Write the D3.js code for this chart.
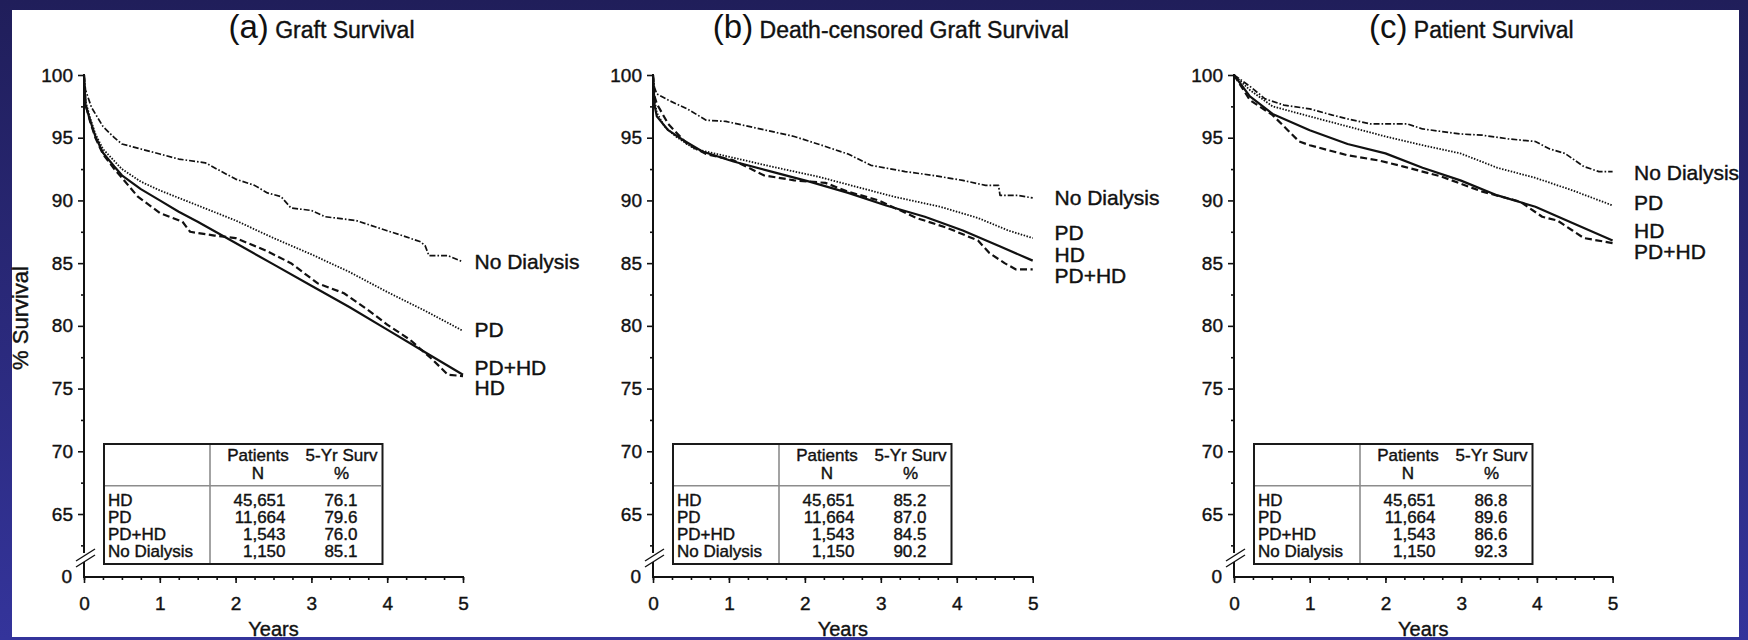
<!DOCTYPE html>
<html>
<head>
<meta charset="utf-8">
<script src="https://d3js.org/d3.v7.min.js"></script>
<style>
  body{margin:0;background:#28277a;}
  svg{display:block;font-family:"Liberation Sans",Arial,Helvetica,sans-serif;}
  text{stroke:#111;stroke-width:0.4px;paint-order:stroke;}
  text.light{stroke-width:0;}
</style>
</head>
<body>
<svg id="chart" width="1748" height="640"></svg>
<script>
// ---- data ----
const years = [0,1,2,3,4,5];
const quarterTicks = d3.range(0, 5.001, 0.25);
const yTicks = [65,70,75,80,85,90,95,100];
const yMinorTicks = [62.5,67.5,72.5,77.5,82.5,87.5,92.5,97.5];
const groups = ['HD','PD','PD+HD','No Dialysis'];
const patientsN = ['45,651','11,664','1,543','1,150'];

const graftSurv5   = [76.1, 79.6, 76.0, 85.1];
const deathCSurv5  = [85.2, 87.0, 84.5, 90.2];
const patientSurv5 = [86.8, 89.6, 86.6, 92.3];

// (a) graft survival
const graftHD = [[0,100],[0.02,97.6],[0.08,96.4],[0.15,95.1],[0.25,93.8],[0.4,92.7],[0.5,92.0],[0.75,90.9],[1,90.0],[1.25,89.1],[1.5,88.3],[2,86.6],[2.5,84.9],[3,83.2],[3.5,81.5],[4,79.7],[4.5,77.9],[5,76.1]];
const graftPD = [[0,100],[0.02,97.9],[0.08,96.6],[0.15,95.3],[0.25,94.1],[0.5,92.5],[0.75,91.5],[1,90.8],[1.5,89.6],[2,88.4],[2.5,87.0],[3,85.7],[3.5,84.3],[4,82.7],[4.5,81.2],[5,79.6]];
const graftPDHD = [[0,100],[0.02,97.7],[0.08,96.3],[0.15,95.0],[0.25,93.7],[0.4,92.5],[0.5,91.8],[0.71,90.3],[1,89.0],[1.3,88.3],[1.4,87.5],[1.72,87.2],[2,87.0],[2.4,86.0],[2.73,85.0],[3.08,83.4],[3.43,82.6],[3.74,81.3],[4,80.1],[4.3,78.9],[4.6,77.3],[4.8,76.1],[5,76.0]];
const graftND = [[0,100],[0.02,98.8],[0.1,97.4],[0.25,95.9],[0.4,95.0],[0.5,94.5],[0.75,94.1],[1,93.7],[1.25,93.3],[1.6,93.0],[2,91.7],[2.25,91.2],[2.42,90.6],[2.6,90.3],[2.73,89.4],[3,89.2],[3.18,88.7],[3.59,88.4],[3.99,87.6],[4.2,87.2],[4.44,86.7],[4.5,86.4],[4.55,85.6],[4.8,85.6],[5,85.1]];

// (b) death-censored graft survival
const dcHD = [[0,100],[0.02,97.6],[0.05,96.7],[0.2,95.6],[0.4,94.8],[0.65,93.9],[1.06,93.1],[1.56,92.3],[2.06,91.5],[2.57,90.6],[3.07,89.6],[3.58,88.7],[4.08,87.6],[4.58,86.3],[5,85.2]];
const dcPD = [[0,100],[0.02,98.0],[0.05,97.0],[0.15,95.9],[0.3,95.1],[0.55,94.1],[1.06,93.4],[1.56,92.7],[2.17,91.9],[2.67,91.1],[3.17,90.3],[3.78,89.5],[4.28,88.6],[4.68,87.6],[5,87.0]];
const dcPDHD = [[0,100],[0.02,98.3],[0.05,97.7],[0.2,96.1],[0.45,94.5],[0.7,93.7],[1.06,93.2],[1.46,92.0],[1.86,91.6],[2.27,91.4],[2.57,90.7],[2.97,90.0],[3.47,88.6],[3.88,87.8],[4.28,86.8],[4.43,85.8],[4.63,85.0],[4.78,84.5],[5,84.5]];
const dcND = [[0,100],[0.02,99.0],[0.05,98.5],[0.2,98.0],[0.45,97.3],[0.7,96.4],[0.96,96.3],[1.26,95.9],[1.56,95.5],[1.86,95.1],[2.17,94.5],[2.57,93.7],[2.87,92.8],[3.32,92.3],[3.68,92.0],[4.08,91.6],[4.38,91.2],[4.55,91.2],[4.57,90.4],[4.8,90.4],[5,90.2]];

// (c) patient survival
const ptHD = [[0,100],[0.21,98.3],[0.51,96.9],[1,95.6],[1.5,94.5],[2,93.75],[2.49,92.6],[2.99,91.6],[3.48,90.4],[3.98,89.5],[4.47,88.2],[5,86.8]];
const ptPD = [[0,100],[0.21,98.8],[0.51,97.5],[1,96.7],[1.5,95.9],[2,95.1],[2.49,94.4],[2.99,93.75],[3.48,92.6],[3.98,91.8],[4.47,90.8],[5,89.6]];
const ptPDHD = [[0,100],[0.21,98.0],[0.51,96.8],[0.71,95.6],[0.86,94.7],[1,94.4],[1.5,93.6],[1.9,93.2],[2.24,92.7],[2.74,91.9],[3.28,90.7],[3.78,89.9],[4.07,88.7],[4.27,88.4],[4.47,87.6],[4.62,87.0],[5,86.6]];
const ptND = [[0,100],[0.21,99.1],[0.41,98.1],[0.66,97.6],[1,97.3],[1.3,96.8],[1.5,96.5],[1.8,96.1],[2.29,96.1],[2.49,95.7],[2.99,95.3],[3.28,95.2],[3.63,94.9],[3.98,94.7],[4.17,94.1],[4.37,93.75],[4.62,92.7],[4.82,92.3],[5,92.3]];

// where each right-hand label sits (in % units), same order as groups
const graftLabelAt   = [75.1, 79.7, 76.7, 85.1];
const deathCLabelAt  = [85.65, 87.4, 84.0, 90.2];
const patientLabelAt = [87.6, 89.85, 85.9, 92.2];

// ---- layout ----
const W = 1748, H = 640;
const Y100 = 75, Y65 = 514, XAXIS_Y = 577;

const lineStyle = {
  'HD':          {dash:null,          w:2.2},
  'PD+HD':       {dash:'7,3.5',       w:2.2},
  'PD':          {dash:'1.5,1.5',     w:1.8},
  'No Dialysis': {dash:'6,2,1.6,2',   w:1.7}
};

const panels = [
  {tag:'(a)', title:'Graft Survival', x0:84, x1:463, labelGap:11.5,
   series:[graftHD, graftPD, graftPDHD, graftND], surv:graftSurv5, labelAt:graftLabelAt},
  {tag:'(b)', title:'Death-censored Graft Survival', x0:653, x1:1032.7, labelGap:21.8,
   series:[dcHD, dcPD, dcPDHD, dcND], surv:deathCSurv5, labelAt:deathCLabelAt},
  {tag:'(c)', title:'Patient Survival', x0:1234, x1:1612.6, labelGap:21.5,
   series:[ptHD, ptPD, ptPDHD, ptND], surv:patientSurv5, labelAt:patientLabelAt}
];

const svg = d3.select('#chart');

// frame
const defs = svg.append('defs');
const grad = defs.append('linearGradient').attr('id','frameGrad')
    .attr('x1',0).attr('y1',0).attr('x2',0).attr('y2',1);
grad.append('stop').attr('offset','0%').attr('stop-color','#201e5a');
grad.append('stop').attr('offset','100%').attr('stop-color','#34349b');
svg.append('rect').attr('width',W).attr('height',H).attr('fill','url(#frameGrad)');
svg.append('rect').attr('x',12).attr('y',10).attr('width',1727).attr('height',627).attr('fill','#ffffff');

const ink = '#111';

function drawPanel(p, idx){
  const g = svg.append('g').attr('class','panel');
  const x = d3.scaleLinear().domain([0,5]).range([p.x0, p.x1]);
  const y = d3.scaleLinear().domain([65,100]).range([Y65, Y100]);

  // title
  const t = g.append('text')
      .attr('x', (p.x0 + p.x1)/2 + 48).attr('y', 38)
      .attr('text-anchor','middle').attr('fill', ink);
  t.append('tspan').attr('font-size', 33).attr('class','light').style('stroke-width','0').text(p.tag);
  t.append('tspan').attr('font-size', 23).text(' ' + p.title);

  // x axis: quarter-year minor ticks, then labelled years
  const xg = g.append('g').attr('transform','translate(0,' + XAXIS_Y + ')');
  xg.append('g')
      .call(d3.axisBottom(x).tickValues(quarterTicks).tickSize(3).tickSizeOuter(0).tickFormat(''))
      .call(s => s.select('.domain').remove());
  xg.append('g')
      .call(d3.axisBottom(x).tickValues(years).tickSize(6).tickSizeOuter(0).tickFormat(d3.format('d')))
      .call(s => s.select('.domain').remove())
      .call(s => s.selectAll('text').attr('y', 20).attr('dy','0.71em').attr('font-size', 19));
  xg.append('line').attr('x1', p.x0 - 1).attr('x2', p.x1 + 1)
      .attr('stroke', ink).attr('stroke-width', 2);
  xg.selectAll('.tick line').attr('stroke', ink).attr('stroke-width', 1.6);
  xg.selectAll('text').attr('fill', ink).attr('font-family', null);

  g.append('text').attr('x', (p.x0 + p.x1)/2).attr('y', 636)
      .attr('text-anchor','middle').attr('font-size', 20).attr('fill', ink).text('Years');

  // y axis with broken scale
  const yg = g.append('g').attr('transform','translate(' + p.x0 + ',0)');
  yg.append('g')
      .call(d3.axisLeft(y).tickValues(yMinorTicks).tickSize(3).tickFormat(''))
      .call(s => s.select('.domain').remove());
  yg.append('g')
      .call(d3.axisLeft(y).tickValues(yTicks).tickSize(6).tickPadding(5))
      .call(s => s.select('.domain').remove())
      .call(s => s.selectAll('text').attr('font-size', 19));
  yg.selectAll('.tick line').attr('stroke', ink).attr('stroke-width', 1.6);
  yg.selectAll('text').attr('fill', ink).attr('font-family', null);

  yg.append('line').attr('x1',0).attr('x2',0).attr('y1', Y100 - 1).attr('y2', 553)
      .attr('stroke', ink).attr('stroke-width', 2);
  yg.append('line').attr('x1',0).attr('x2',0).attr('y1', 562).attr('y2', XAXIS_Y)
      .attr('stroke', ink).attr('stroke-width', 2);
  yg.append('line').attr('x1',-8).attr('y1',561).attr('x2',11).attr('y2',549)
      .attr('stroke', ink).attr('stroke-width', 1.4);
  yg.append('line').attr('x1',-8).attr('y1',567).attr('x2',11).attr('y2',555)
      .attr('stroke', ink).attr('stroke-width', 1.4);
  yg.append('text').attr('x', -12).attr('y', XAXIS_Y).attr('dy','0.32em')
      .attr('text-anchor','end').attr('font-size', 19).attr('fill', ink).text('0');

  if(idx === 0){
    g.append('text').attr('transform','translate(28,318) rotate(-90)')
        .attr('text-anchor','middle').attr('font-size', 22).attr('fill', ink).text('% Survival');
  }

  // curves
  const line = d3.line().x(d => x(d[0])).y(d => y(d[1]));
  groups.forEach((name, i) => {
    const st = lineStyle[name];
    g.append('path').datum(p.series[i])
        .attr('d', line)
        .attr('fill','none')
        .attr('stroke', ink)
        .attr('stroke-width', st.w)
        .attr('stroke-dasharray', st.dash)
        .attr('stroke-linejoin','round');
    g.append('text')
        .attr('x', p.x1 + p.labelGap).attr('y', y(p.labelAt[i])).attr('dy','0.35em')
        .attr('font-size', 21).attr('fill', ink).text(name);
  });

  // summary table
  const tb = g.append('g').attr('transform','translate(' + (p.x0 + 20) + ',444)');
  const tw = 278.5, th = 120, colX = 106, hdrY = 41.7;
  tb.append('rect').attr('width', tw).attr('height', th)
      .attr('fill','#fff').attr('stroke','#1a1a1a').attr('stroke-width', 2);
  tb.append('line').attr('x1', colX).attr('x2', colX).attr('y1', 1).attr('y2', th - 1)
      .attr('stroke','#8c8c8c').attr('stroke-width', 1.6);
  tb.append('line').attr('x1', 1).attr('x2', tw - 1).attr('y1', hdrY).attr('y2', hdrY)
      .attr('stroke','#8c8c8c').attr('stroke-width', 1.6);

  const hdr = [['Patients', 154],['5-Yr Surv', 237.5]];
  const hdr2 = [['N', 154],['%', 237.5]];
  tb.selectAll('text.h1').data(hdr).join('text').attr('class','h1')
      .attr('x', d => d[1]).attr('y', 16.7).attr('text-anchor','middle')
      .attr('font-size', 17).attr('fill', ink).text(d => d[0]);
  tb.selectAll('text.h2').data(hdr2).join('text').attr('class','h2')
      .attr('x', d => d[1]).attr('y', 35).attr('text-anchor','middle')
      .attr('font-size', 17).attr('fill', ink).text(d => d[0]);

  const rowY = i => 61.7 + i * 17.2;
  tb.selectAll('text.rl').data(groups).join('text').attr('class','rl')
      .attr('x', 4).attr('y', (d,i) => rowY(i))
      .attr('font-size', 17).attr('fill', ink).text(d => d);
  tb.selectAll('text.rn').data(patientsN).join('text').attr('class','rn')
      .attr('x', 181.5).attr('y', (d,i) => rowY(i)).attr('text-anchor','end')
      .attr('font-size', 17).attr('fill', ink).text(d => d);
  tb.selectAll('text.rs').data(p.surv).join('text').attr('class','rs')
      .attr('x', 253.5).attr('y', (d,i) => rowY(i)).attr('text-anchor','end')
      .attr('font-size', 17).attr('fill', ink).text(d => d.toFixed(1));
}

panels.forEach(drawPanel);
</script>
</body>
</html>
